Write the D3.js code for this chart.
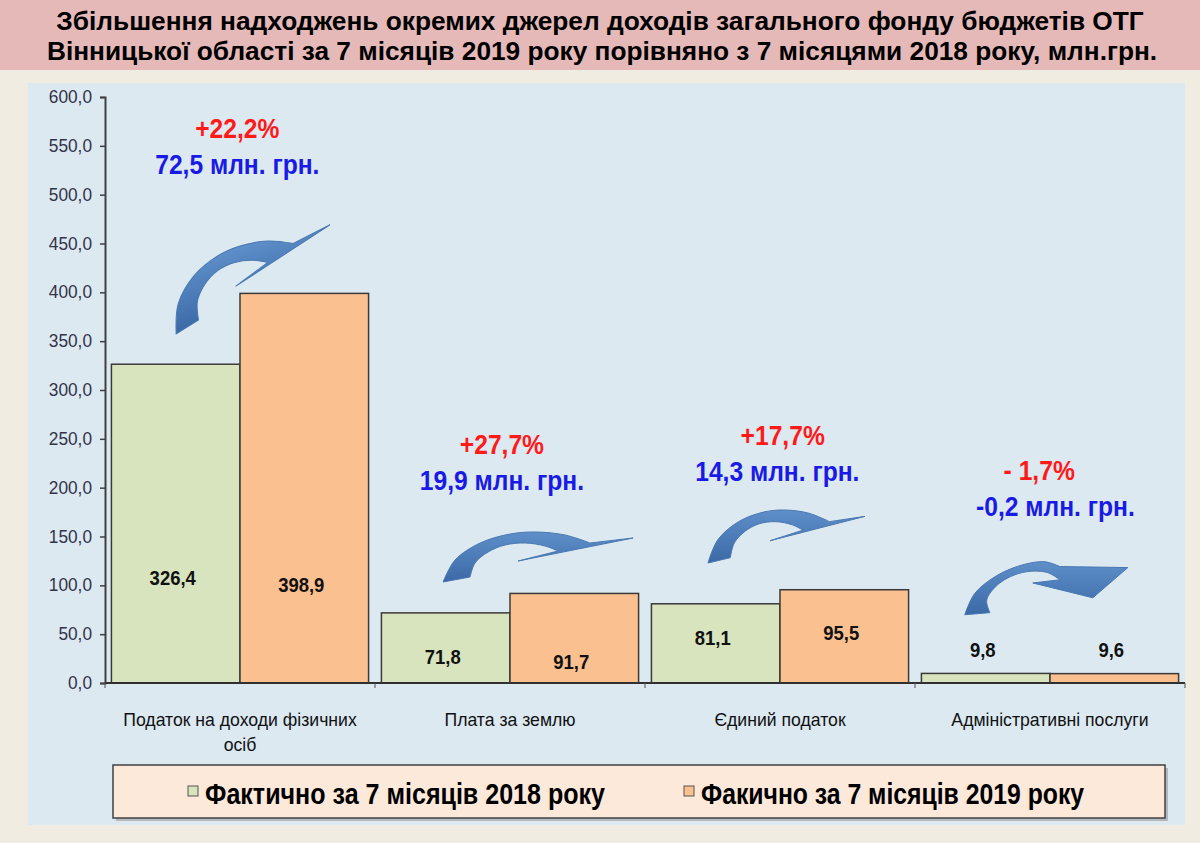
<!DOCTYPE html>
<html><head><meta charset="utf-8">
<script src="https://cdn.jsdelivr.net/npm/d3@7"></script>
<style>html,body{margin:0;padding:0;background:#f0ece2;}svg{display:block;}</style>
</head><body>
<svg id="chart" width="1200" height="843"></svg>
<script>
// ---------- DATA ----------
const categories = ["Податок на доходи фізичних осіб", "Плата за землю", "Єдиний податок", "Адміністративні послуги"];
const categoryLines = [["Податок на доходи фізичних", "осіб"], ["Плата за землю"], ["Єдиний податок"], ["Адміністративні послуги"]];
const seriesNames = ["Фактично за 7 місяців 2018 року", "Факично за 7 місяців 2019 року"];
const values2018 = [326.4, 71.8, 81.1, 9.8];
const values2019 = [398.9, 91.7, 95.5, 9.6];
const changePct = ["+22,2%", "+27,7%", "+17,7%", "- 1,7%"];
const changeAbs = ["72,5 млн. грн.", "19,9 млн. грн.", "14,3 млн. грн.", "-0,2 млн. грн."];
const yTicks = [0, 50, 100, 150, 200, 250, 300, 350, 400, 450, 500, 550, 600];
const titleLines = ["Збільшення надходжень окремих джерел доходів загального фонду бюджетів ОТГ",
                    "Вінницької області за 7 місяців 2019 року порівняно з 7 місяцями 2018 року, млн.грн."];

// ---------- LAYOUT (not data) ----------
const labelLevels2018 = [108, 27, 46, 34];   // where the value labels sit (axis units)
const labelLevels2019 = [100, 21, 51, 34];
const annotLevel = [559, 235, 245, 209];      // baseline of the % line (axis units)
const annotFrac = [0.49, 0.47, 0.51, 0.46];
const annotFrac2 = [0.49, 0.47, 0.49, 0.52];
const arrowSpec = [
  {frac: 0.544, level: 417, w: 180, h: 64, rot: -18, shape: 0},
  {frac: 0.604, level: 129, w: 190, h: 50, rot: 0, shape: 0},
  {frac: 0.524, level: 150, w: 157, h: 53, rot: 0, shape: 0},
  {frac: 0.49,  level: 97,  w: 165, h: 53, rot: 0, shape: 1}
];

const FONT = "'Liberation Sans', Arial, sans-serif";
const NARROW = 0.82;
const svg = d3.select("#chart");

function ntext(g, x, y, str, opts) {
  const t = g.append("text")
    .attr("transform", `translate(${x},${y}) scale(${opts.scale || NARROW},1)`)
    .attr("text-anchor", opts.anchor || "middle")
    .attr("font-family", FONT)
    .attr("font-size", opts.size || 15)
    .attr("font-weight", opts.weight || "normal")
    .attr("fill", opts.fill || "#000")
    .text(str);
  if (opts.width) {
    const len = t.node().getComputedTextLength();
    t.attr("transform", `translate(${x},${y}) scale(${opts.width / len},1)`);
  }
  return t;
}

// ---------- BACKGROUNDS ----------
svg.append("rect").attr("x", 0).attr("y", 0).attr("width", 1200).attr("height", 843).attr("fill", "#f0ece2");
svg.append("rect").attr("x", 0).attr("y", 0).attr("width", 1200).attr("height", 70).attr("fill", "#e6b9b9");
svg.append("rect").attr("x", 28).attr("y", 83).attr("width", 1157).attr("height", 742).attr("fill", "#dce9f1");

ntext(svg, 600, 30, titleLines[0], {size: 26, weight: "bold", width: 1088});
ntext(svg, 602, 60, titleLines[1], {size: 26, weight: "bold", width: 1110});

// ---------- SCALES ----------
const y = d3.scaleLinear().domain([0, 600]).range([683, 97]);
const x = d3.scaleBand().domain(categories).range([105, 1185]).padding(0);
const xs = d3.scaleBand().domain([0, 1]).range([0, x.bandwidth()]).paddingInner(0).paddingOuter(0.05);
const fmt = v => d3.format(".1f")(v).replace(".", ",");

// ---------- AXES ----------
const yAxis = d3.axisLeft(y).tickValues(yTicks).tickFormat(fmt).tickSize(5).tickPadding(8);
const gy = svg.append("g").attr("transform", "translate(105,0)").call(yAxis);
gy.select(".domain").attr("stroke", "#404040").attr("stroke-width", 2);
gy.selectAll(".tick line").attr("stroke", "#404040").attr("stroke-width", 1.5);
gy.selectAll(".tick text").each(function(d) {
  const sel = d3.select(this);
  const yy = y(d);
  sel.remove();
  ntext(gy, -13, yy + 6, fmt(d), {anchor: "end", size: 18, scale: 0.96, fill: "#33334a"});
});

// ---------- BARS ----------
const rows = categories.map((c, i) => ({c, i, vals: [values2018[i], values2019[i]]}));
const fills = ["#d7e4bd", "#fbc08f"];
const gb = svg.append("g");
rows.forEach(r => {
  r.vals.forEach((v, s) => {
    gb.append("rect")
      .attr("x", x(r.c) + xs(s))
      .attr("y", y(v))
      .attr("width", xs.bandwidth())
      .attr("height", y(0) - y(v))
      .attr("fill", fills[s])
      .attr("stroke", "#3a3a3a")
      .attr("stroke-width", 1.5);
  });
});

const xAxisG = svg.append("g");
xAxisG.append("line").attr("x1", 105).attr("x2", 1185).attr("y1", y(0)).attr("y2", y(0))
  .attr("stroke", "#303030").attr("stroke-width", 2);
categories.forEach(c => {
  xAxisG.append("line").attr("x1", x(c)).attr("x2", x(c)).attr("y1", y(0)).attr("y2", y(0) + 5)
    .attr("stroke", "#505050").attr("stroke-width", 1);
});
xAxisG.append("line").attr("x1", 1185).attr("x2", 1185).attr("y1", y(0)).attr("y2", y(0) + 5)
  .attr("stroke", "#505050").attr("stroke-width", 1);

categories.forEach((c, i) => {
  categoryLines[i].forEach((ln, k) => {
    ntext(svg, x(c) + x.bandwidth() / 2, 726 + k * 25, ln, {size: 18, scale: 0.98, fill: "#111"});
  });
});

rows.forEach(r => {
  const lv = [labelLevels2018[r.i], labelLevels2019[r.i]];
  r.vals.forEach((v, s) => {
    ntext(svg, x(r.c) + xs(s) + xs.bandwidth() / 2 - 3, y(lv[s]) + 7, fmt(v), {size: 21, scale: 0.88, weight: "bold", fill: "#111"});
  });
});

// ---------- ARROWS ----------
const defs = svg.append("defs");
const grad = defs.append("linearGradient").attr("id", "arrowGrad").attr("x1", 0).attr("y1", 0).attr("x2", 0).attr("y2", 1);
grad.append("stop").attr("offset", "0%").attr("stop-color", "#5e8fc9");
grad.append("stop").attr("offset", "100%").attr("stop-color", "#3b69a6");

const arrowShapes = [
  { outer: [[0,1],[0.063,0.56],[0.195,0.22],[0.353,0.04],[0.484,0],[0.642,0.06],[0.774,0.22]],
    head: [[1,0.12],[0.395,0.58],[0.605,0.38]],
    inner: [[0.605,0.38],[0.537,0.28],[0.432,0.22],[0.326,0.26],[0.237,0.4],[0.168,0.62],[0.142,0.9]] },
  { outer: [[0,1],[0.06,0.6],[0.2,0.25],[0.36,0.05],[0.485,0],[0.576,0.09]],
    head: [[0.988,0.11],[0.776,0.68],[0.412,0.4],[0.576,0.34]],
    inner: [[0.576,0.34],[0.497,0.2],[0.352,0.2],[0.212,0.4],[0.133,0.72],[0.152,0.96]] }
];
function arrowPath(shape, w, h) {
  const m = p => [(p[0] - 0.5) * w, (p[1] - 0.5) * h];
  const cr = d3.line().curve(d3.curveCatmullRom.alpha(0.5));
  let d = cr(shape.outer.map(m));
  shape.head.map(m).forEach(p => { d += `L${p[0]},${p[1]}`; });
  d += cr(shape.inner.map(m)).replace(/^M/, "L");
  return d + "Z";
}
arrowSpec.forEach((a, i) => {
  const cx = x(categories[i]) + a.frac * x.bandwidth();
  const cy = y(a.level);
  svg.append("path")
    .attr("d", arrowPath(arrowShapes[a.shape], a.w, a.h))
    .attr("transform", `translate(${cx},${cy}) rotate(${a.rot})`)
    .attr("fill", "url(#arrowGrad)")
    .attr("stroke", "#4a78b3").attr("stroke-width", 1);
});

// ---------- ANNOTATIONS ----------
categories.forEach((c, i) => {
  const by = y(annotLevel[i]);
  ntext(svg, x(c) + annotFrac[i] * x.bandwidth(), by + 1, changePct[i], {size: 28, scale: 0.88, weight: "bold", fill: "#ff1a1a"});
  ntext(svg, x(c) + annotFrac2[i] * x.bandwidth(), by + 37, changeAbs[i], {size: 28, scale: 0.88, weight: "bold", fill: "#1a1ae6"});
});

// ---------- LEGEND ----------
const lg = svg.append("g");
lg.append("rect").attr("x", 116).attr("y", 768).attr("width", 1052).attr("height", 53).attr("fill", "#8a8a8a").attr("opacity", 0.5);
lg.append("rect").attr("x", 113).attr("y", 765).attr("width", 1052).attr("height", 53)
  .attr("fill", "#fde9da").attr("stroke", "#404040").attr("stroke-width", 1.5);
const legX = [188, 684];
const legW = [400, 383];
seriesNames.forEach((n, s) => {
  lg.append("rect").attr("x", legX[s]).attr("y", 786).attr("width", 10).attr("height", 10)
    .attr("fill", fills[s]).attr("stroke", "#555").attr("stroke-width", 1);
  ntext(lg, legX[s] + 17, 804, n, {anchor: "start", size: 29, weight: "bold", width: legW[s]});
});
</script>
</body></html>
